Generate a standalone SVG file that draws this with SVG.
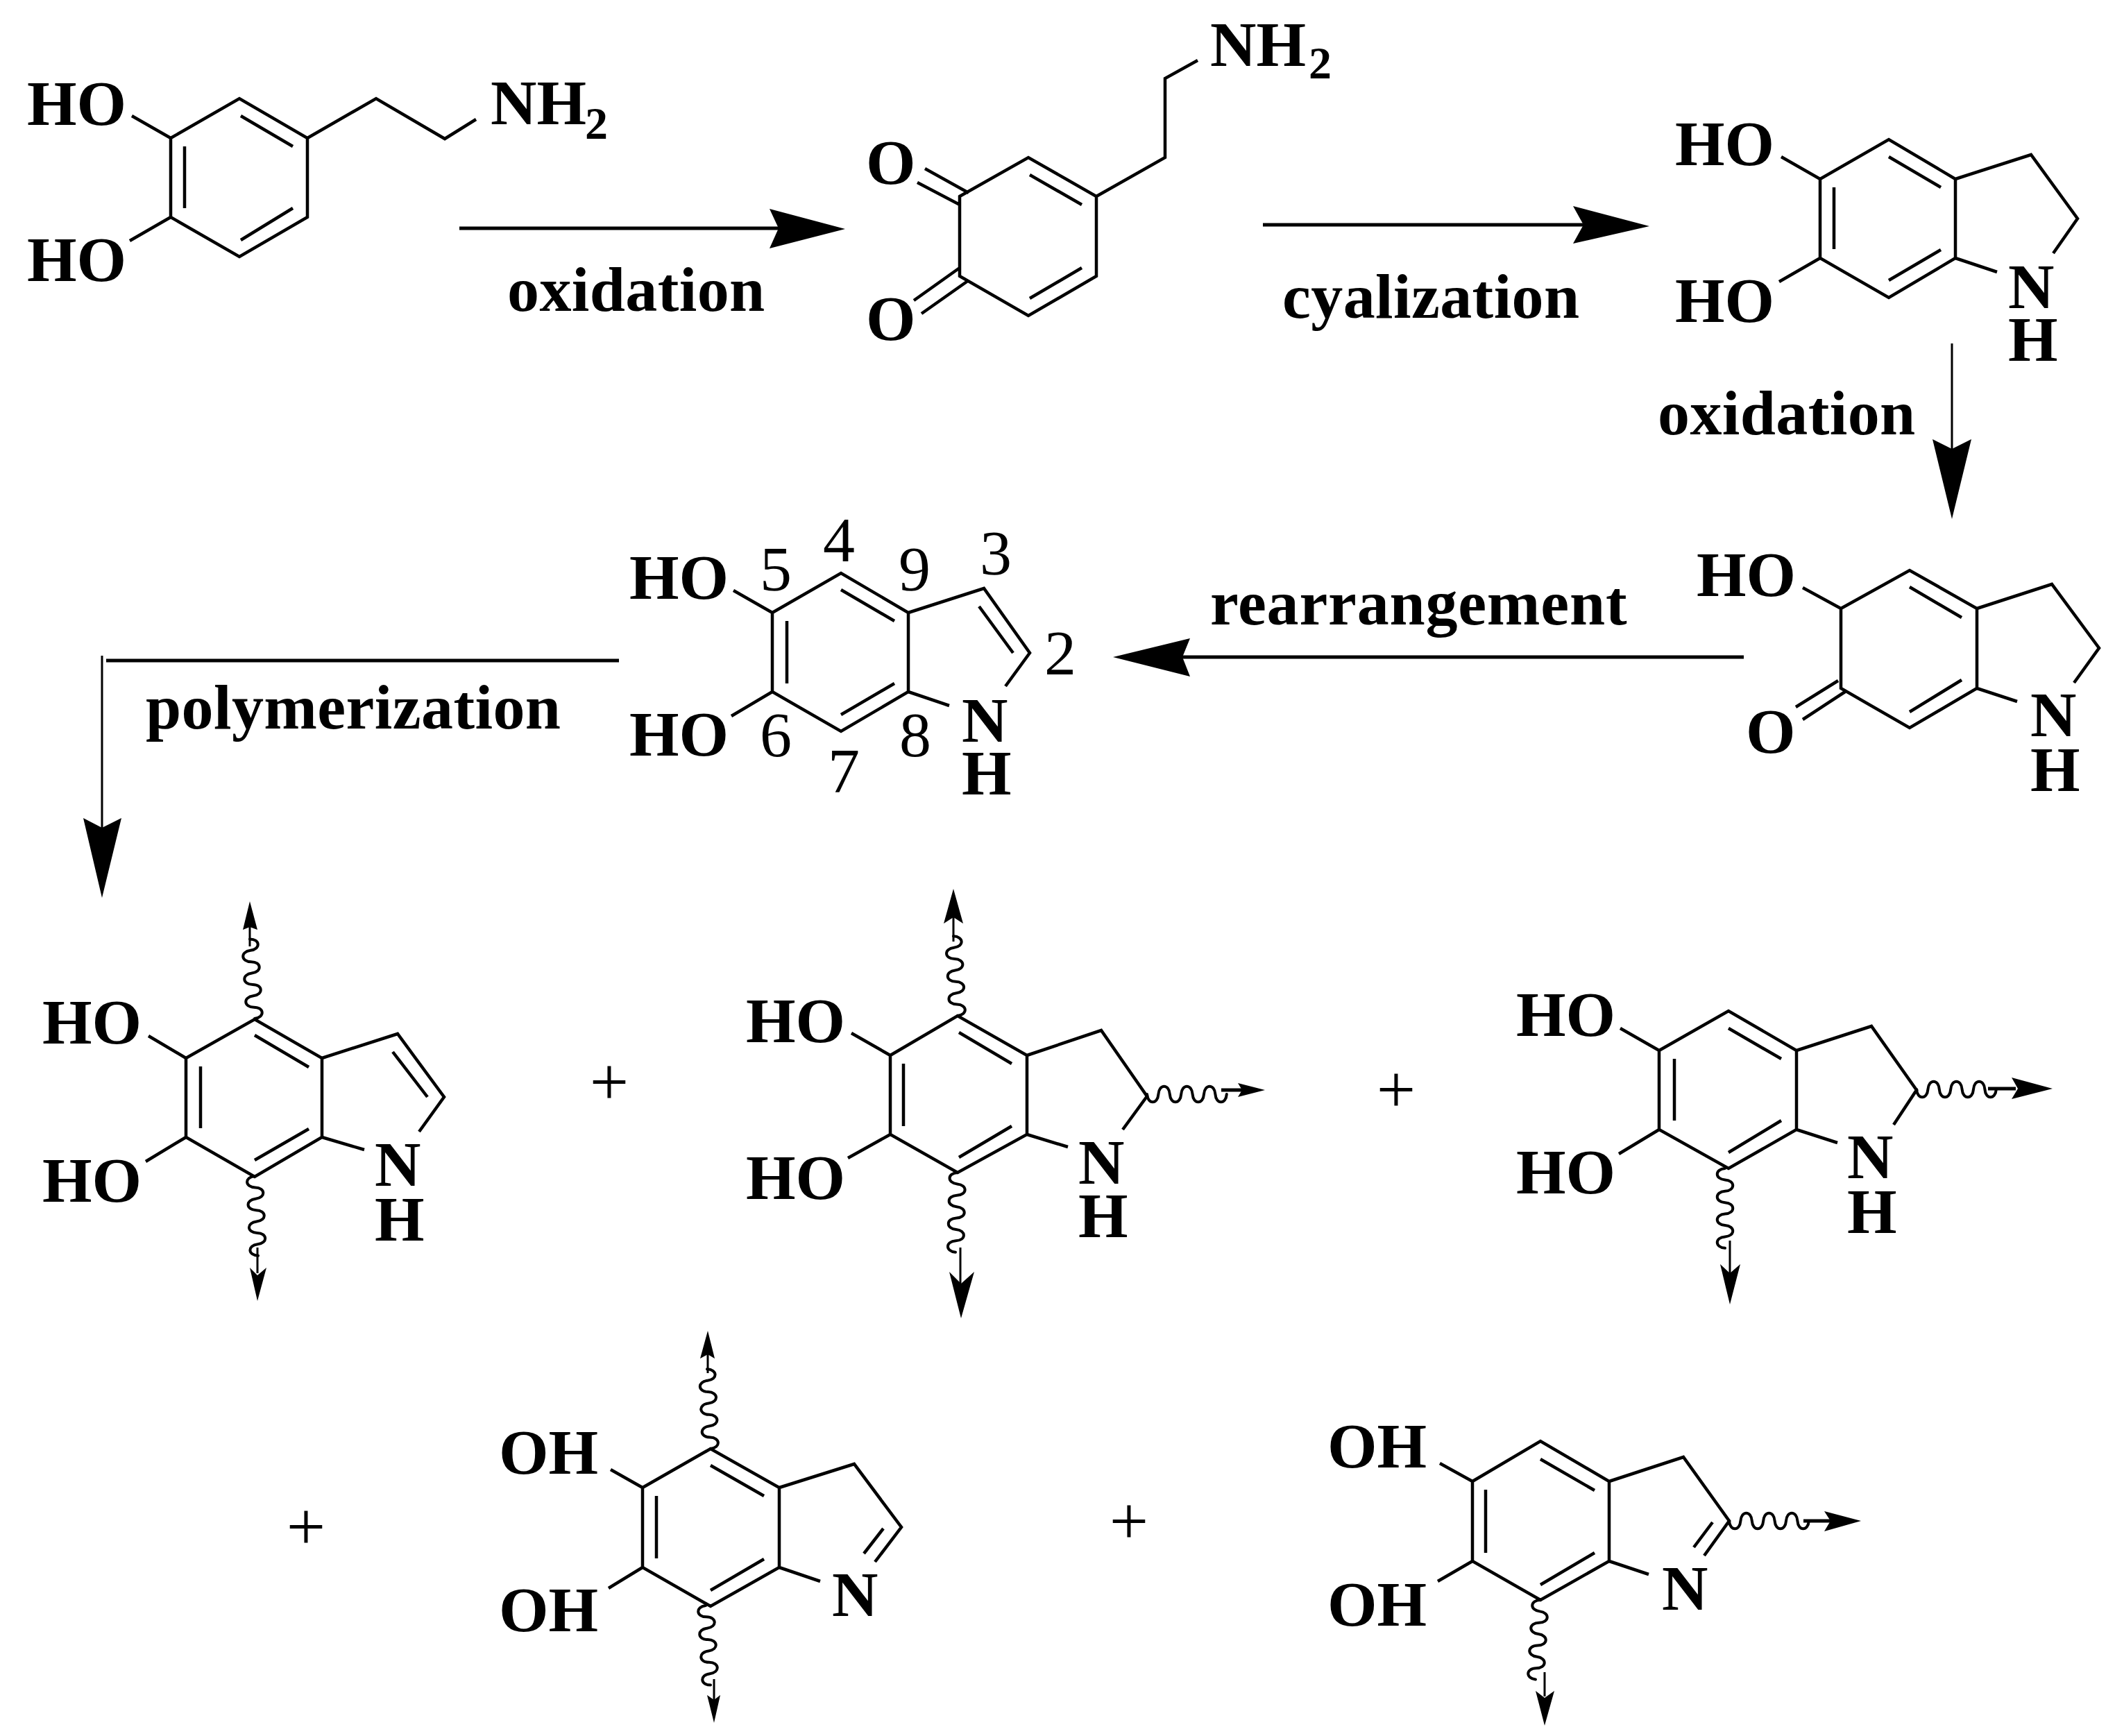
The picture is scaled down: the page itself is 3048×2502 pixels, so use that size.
<svg xmlns="http://www.w3.org/2000/svg" xmlns:xlink="http://www.w3.org/1999/xlink" width="3048" height="2502" viewBox="0 0 3048 2502">
<style>
text{font-family:"Liberation Serif","Times New Roman",serif;font-size:92px;font-weight:700;fill:#000}
.n{font-weight:400}
.s{font-size:66px}
.p{font-weight:400;font-size:100px;text-anchor:middle}
.t{letter-spacing:.4px}
.b{fill:none;stroke:#000;stroke-width:4.5;stroke-linejoin:miter;stroke-linecap:butt}
.w{fill:none;stroke:#000;stroke-width:4;stroke-linecap:round}
.l{fill:none;stroke:#000;stroke-width:5}
.v{fill:none;stroke:#000;stroke-width:3}
.h{fill:#000;stroke:none}
</style>
<defs>
<path id="wv" class="w" d="M0 0c15-1 15-15.4 0-16.4c-15-1-15-15.4 0-16.4c15-1 15-15.4 0-16.4c-15-1-15-15.4 0-16.4c15-1 15-15.4 0-16.4c-15-1-15-15.4 0-16.4c15-1 15-15.4 0-16.4"/>
</defs>
<rect width="3048" height="2502" fill="#fff"/>
<g id="connectors">
<path class="l" d="M662 329H1122"/><polygon class="h" points="1218,330 1109,301 1122,329 1109,358"/>
<path class="l" d="M1820 324H2282"/><polygon class="h" points="2377,326 2267,297 2282,324 2267,351"/>
<path class="v" d="M2813 495V650"/><polygon class="h" points="2813,748 2785,633 2813,647 2841,633"/>
<path class="l" d="M2513 947H1704"/><polygon class="h" points="1604,947 1715,920 1704,947 1715,975"/>
<path class="l" d="M892 952H153"/><path class="v" d="M147 945V1195"/><polygon class="h" points="147,1294 120,1179 147,1193 175,1179"/>
</g>
<g id="label-oxidation-1"><text class="t" x="731" y="448">oxidation</text></g>
<g id="label-cyalization"><text class="t" x="1848" y="458">cyalization</text></g>
<g id="label-oxidation-2"><text class="t" x="2389" y="626">oxidation</text></g>
<g id="label-rearrangement"><text class="t" style="letter-spacing:.8px" x="1744" y="900">rearrangement</text></g>
<g id="label-polymerization"><text class="t" x="210" y="1050">polymerization</text></g>

<g id="dopamine">
<path class="b" d="M246 199L345 142L443 199V313L345 370L246 313ZM190 167L246 199M246 313L187 347M266 211V300M347 167L422 211M422 300L347 346M443 199L542 142L641 200L686 172"/>
<text x="39" y="180">HO</text><text x="39" y="405">HO</text>
<text x="707" y="179">NH</text><text class="s" x="843" y="200">2</text>
</g>
<g id="dopamine-quinone">
<path class="b" d="M1383 283L1482 227L1580 283V398L1482 455L1383 398ZM1333 243L1396 278M1322 263L1383 295M1317 433L1383 386M1328 452L1396 404M1484 252L1559 295M1559 386L1484 430M1580 283L1679 227V113L1726 87"/>
<text x="1248" y="265">O</text><text x="1248" y="490">O</text>
<text x="1744" y="95">NH</text><text class="s" x="1886" y="113">2</text>
</g>
<g id="leucodopaminechrome">
<path class="b" d="M2623 258L2722 201L2818 258V372L2722 429L2623 372ZM2818 258L2927 223L2994 315L2959 365M2818 372L2878 392M2567 226L2623 258M2623 372L2564 406M2643 270V359M2722 226L2797 270M2797 360L2722 404"/>
<text x="2414" y="238">HO</text><text x="2414" y="464">HO</text>
<text x="2894" y="444">N</text><text x="2894" y="520">H</text>
</g>
<g id="dopaminechrome">
<path class="b" d="M2653 877L2752 822L2849 877V992L2752 1049L2653 992ZM2849 877L2957 842L3025 934L2989 984M2849 992L2907 1011M2598 847L2653 877M2588 1019L2649 981M2598 1037L2659 997M2752 846L2827 890M2827 980L2752 1026"/>
<text x="2445" y="859">HO</text><text x="2516" y="1085">O</text>
<text x="2926" y="1061">N</text><text x="2926" y="1140">H</text>
</g>
<g id="dhi">
<path class="b" d="M1113 883L1212 826L1309 883V997L1212 1054L1113 997ZM1309 883L1418 848L1484 941L1449 989M1411 874L1460 941M1309 997L1368 1017M1057 851L1113 883M1113 997L1054 1032M1134 895V985M1212 850L1289 895M1289 985L1212 1030"/>
<text x="907" y="863">HO</text><text x="907" y="1089">HO</text>
<text x="1386" y="1069">N</text><text x="1386" y="1145">H</text>
<text class="n" x="1095" y="851">5</text><text class="n" x="1186" y="809">4</text><text class="n" x="1295" y="851">9</text><text class="n" x="1412" y="828">3</text><text class="n" x="1505" y="972">2</text><text class="n" x="1095" y="1090">6</text><text class="n" x="1193" y="1142">7</text><text class="n" x="1296" y="1090">8</text>
</g>
<g id="unit-1">
<path class="b" d="M268 1525L367 1469L464 1525V1639L367 1696L268 1639ZM464 1525L573 1490L640 1581L604 1631M566 1516L616 1581M464 1639L525 1657M214 1493L268 1525M268 1639L210 1674M289 1537V1626M367 1492L445 1538M445 1627L367 1672"/>
<text x="61" y="1504">HO</text><text x="61" y="1732">HO</text>
<text x="540" y="1709">N</text><text x="540" y="1788">H</text>
<use href="#wv" xlink:href="#wv" transform="translate(367 1468) rotate(-3.5)"/>
<path class="v" d="M360 1364V1330"/><polygon class="h" points="360,1299 350,1340 360,1336 371,1340"/>
<use href="#wv" xlink:href="#wv" transform="translate(367 1695) rotate(177.5)"/>
<path class="v" d="M371 1798V1835"/><polygon class="h" points="371,1875 360,1827 371,1838 384,1827"/>
</g>
<g id="plus-1"><text class="p" x="878" y="1593">+</text></g>
<g id="unit-2">
<path class="b" d="M1283 1521L1380 1464L1480 1521V1635L1380 1690L1283 1635ZM1480 1521L1587 1485L1653 1580L1618 1628M1480 1635L1539 1653M1227 1489L1283 1521M1283 1635L1222 1669M1302 1533V1623M1382 1488L1458 1533M1458 1623L1382 1668"/>
<text x="1075" y="1502">HO</text><text x="1075" y="1728">HO</text>
<text x="1554" y="1706">N</text><text x="1554" y="1783">H</text>
<use href="#wv" xlink:href="#wv" transform="translate(1380 1464) rotate(-3)"/>
<path class="v" d="M1374 1357V1320"/><polygon class="h" points="1374,1281 1360,1331 1374,1322 1388,1331"/>
<use href="#wv" xlink:href="#wv" transform="translate(1380 1690) rotate(181.5)"/>
<path class="v" d="M1384 1798V1850"/><polygon class="h" points="1385,1900 1368,1833 1385,1850 1404,1833"/>
<use href="#wv" xlink:href="#wv" transform="translate(1653 1577) rotate(90)"/>
<path class="l" d="M1760 1571H1795"/><polygon class="h" points="1823,1571 1784,1561 1790,1571 1784,1581"/>
</g>
<g id="plus-2"><text class="p" x="2012" y="1604">+</text></g>
<g id="unit-3">
<path class="b" d="M2391 1514L2491 1457L2589 1514V1628L2491 1684L2391 1628ZM2589 1514L2697 1479L2762 1571L2729 1621M2589 1628L2648 1647M2335 1482L2391 1514M2391 1628L2333 1663M2413 1526V1615M2491 1482L2567 1526M2567 1615L2491 1661"/>
<text x="2185" y="1493">HO</text><text x="2185" y="1720">HO</text>
<text x="2662" y="1698">N</text><text x="2662" y="1777">H</text>
<use href="#wv" xlink:href="#wv" transform="translate(2486 1684) rotate(180)"/>
<path class="v" d="M2493 1788V1835"/><polygon class="h" points="2493,1880 2479,1822 2493,1835 2508,1822"/>
<use href="#wv" xlink:href="#wv" transform="translate(2762 1570) rotate(90)"/>
<path class="l" d="M2865 1569H2905"/><polygon class="h" points="2958,1569 2899,1553 2908,1569 2899,1584"/>
</g>
<g id="plus-3"><text class="p" x="441" y="2234">+</text></g>
<g id="unit-4">
<path class="b" d="M926 2144L1024 2088L1123 2144V2259L1024 2315L926 2259ZM1123 2144L1231 2110L1299 2201L1261 2251M1273 2203L1245 2239M1123 2259L1182 2279M880 2118L926 2144M926 2259L877 2289M946 2156V2246M1024 2112L1101 2156M1101 2247L1024 2292"/>
<text x="719" y="2124">OH</text><text x="719" y="2351">OH</text>
<text x="1199" y="2329">N</text>
<use href="#wv" xlink:href="#wv" transform="translate(1024 2088) rotate(-2.5)"/>
<path class="v" d="M1020 1979V1950"/><polygon class="h" points="1020,1918 1009,1958 1020,1952 1030,1958"/>
<use href="#wv" xlink:href="#wv" transform="translate(1017 2314) rotate(176.5)"/>
<path class="v" d="M1029 2420V2450"/><polygon class="h" points="1029,2483 1019,2443 1029,2450 1038,2443"/>
</g>
<g id="plus-4"><text class="p" x="1627" y="2226">+</text></g>
<g id="unit-5">
<path class="b" d="M2122 2135L2220 2077L2319 2135V2250L2220 2306L2122 2250ZM2319 2135L2426 2100L2492 2192L2456 2242M2468 2194L2441 2230M2319 2250L2376 2269M2075 2109L2122 2135M2122 2250L2072 2279M2141 2147V2238M2220 2103L2298 2148M2298 2238L2220 2284"/>
<text x="1913" y="2115">OH</text><text x="1913" y="2343">OH</text>
<text x="2395" y="2320">N</text>
<use href="#wv" xlink:href="#wv" transform="translate(2220 2306) rotate(183.5)"/>
<path class="v" d="M2226 2410V2445"/><polygon class="h" points="2226,2487 2213,2437 2226,2447 2240,2437"/>
<use href="#wv" xlink:href="#wv" transform="translate(2492 2192) rotate(90)"/>
<path class="l" d="M2599 2192H2640"/><polygon class="h" points="2682,2192 2629,2178 2638,2192 2629,2207"/>
</g>
</svg>
